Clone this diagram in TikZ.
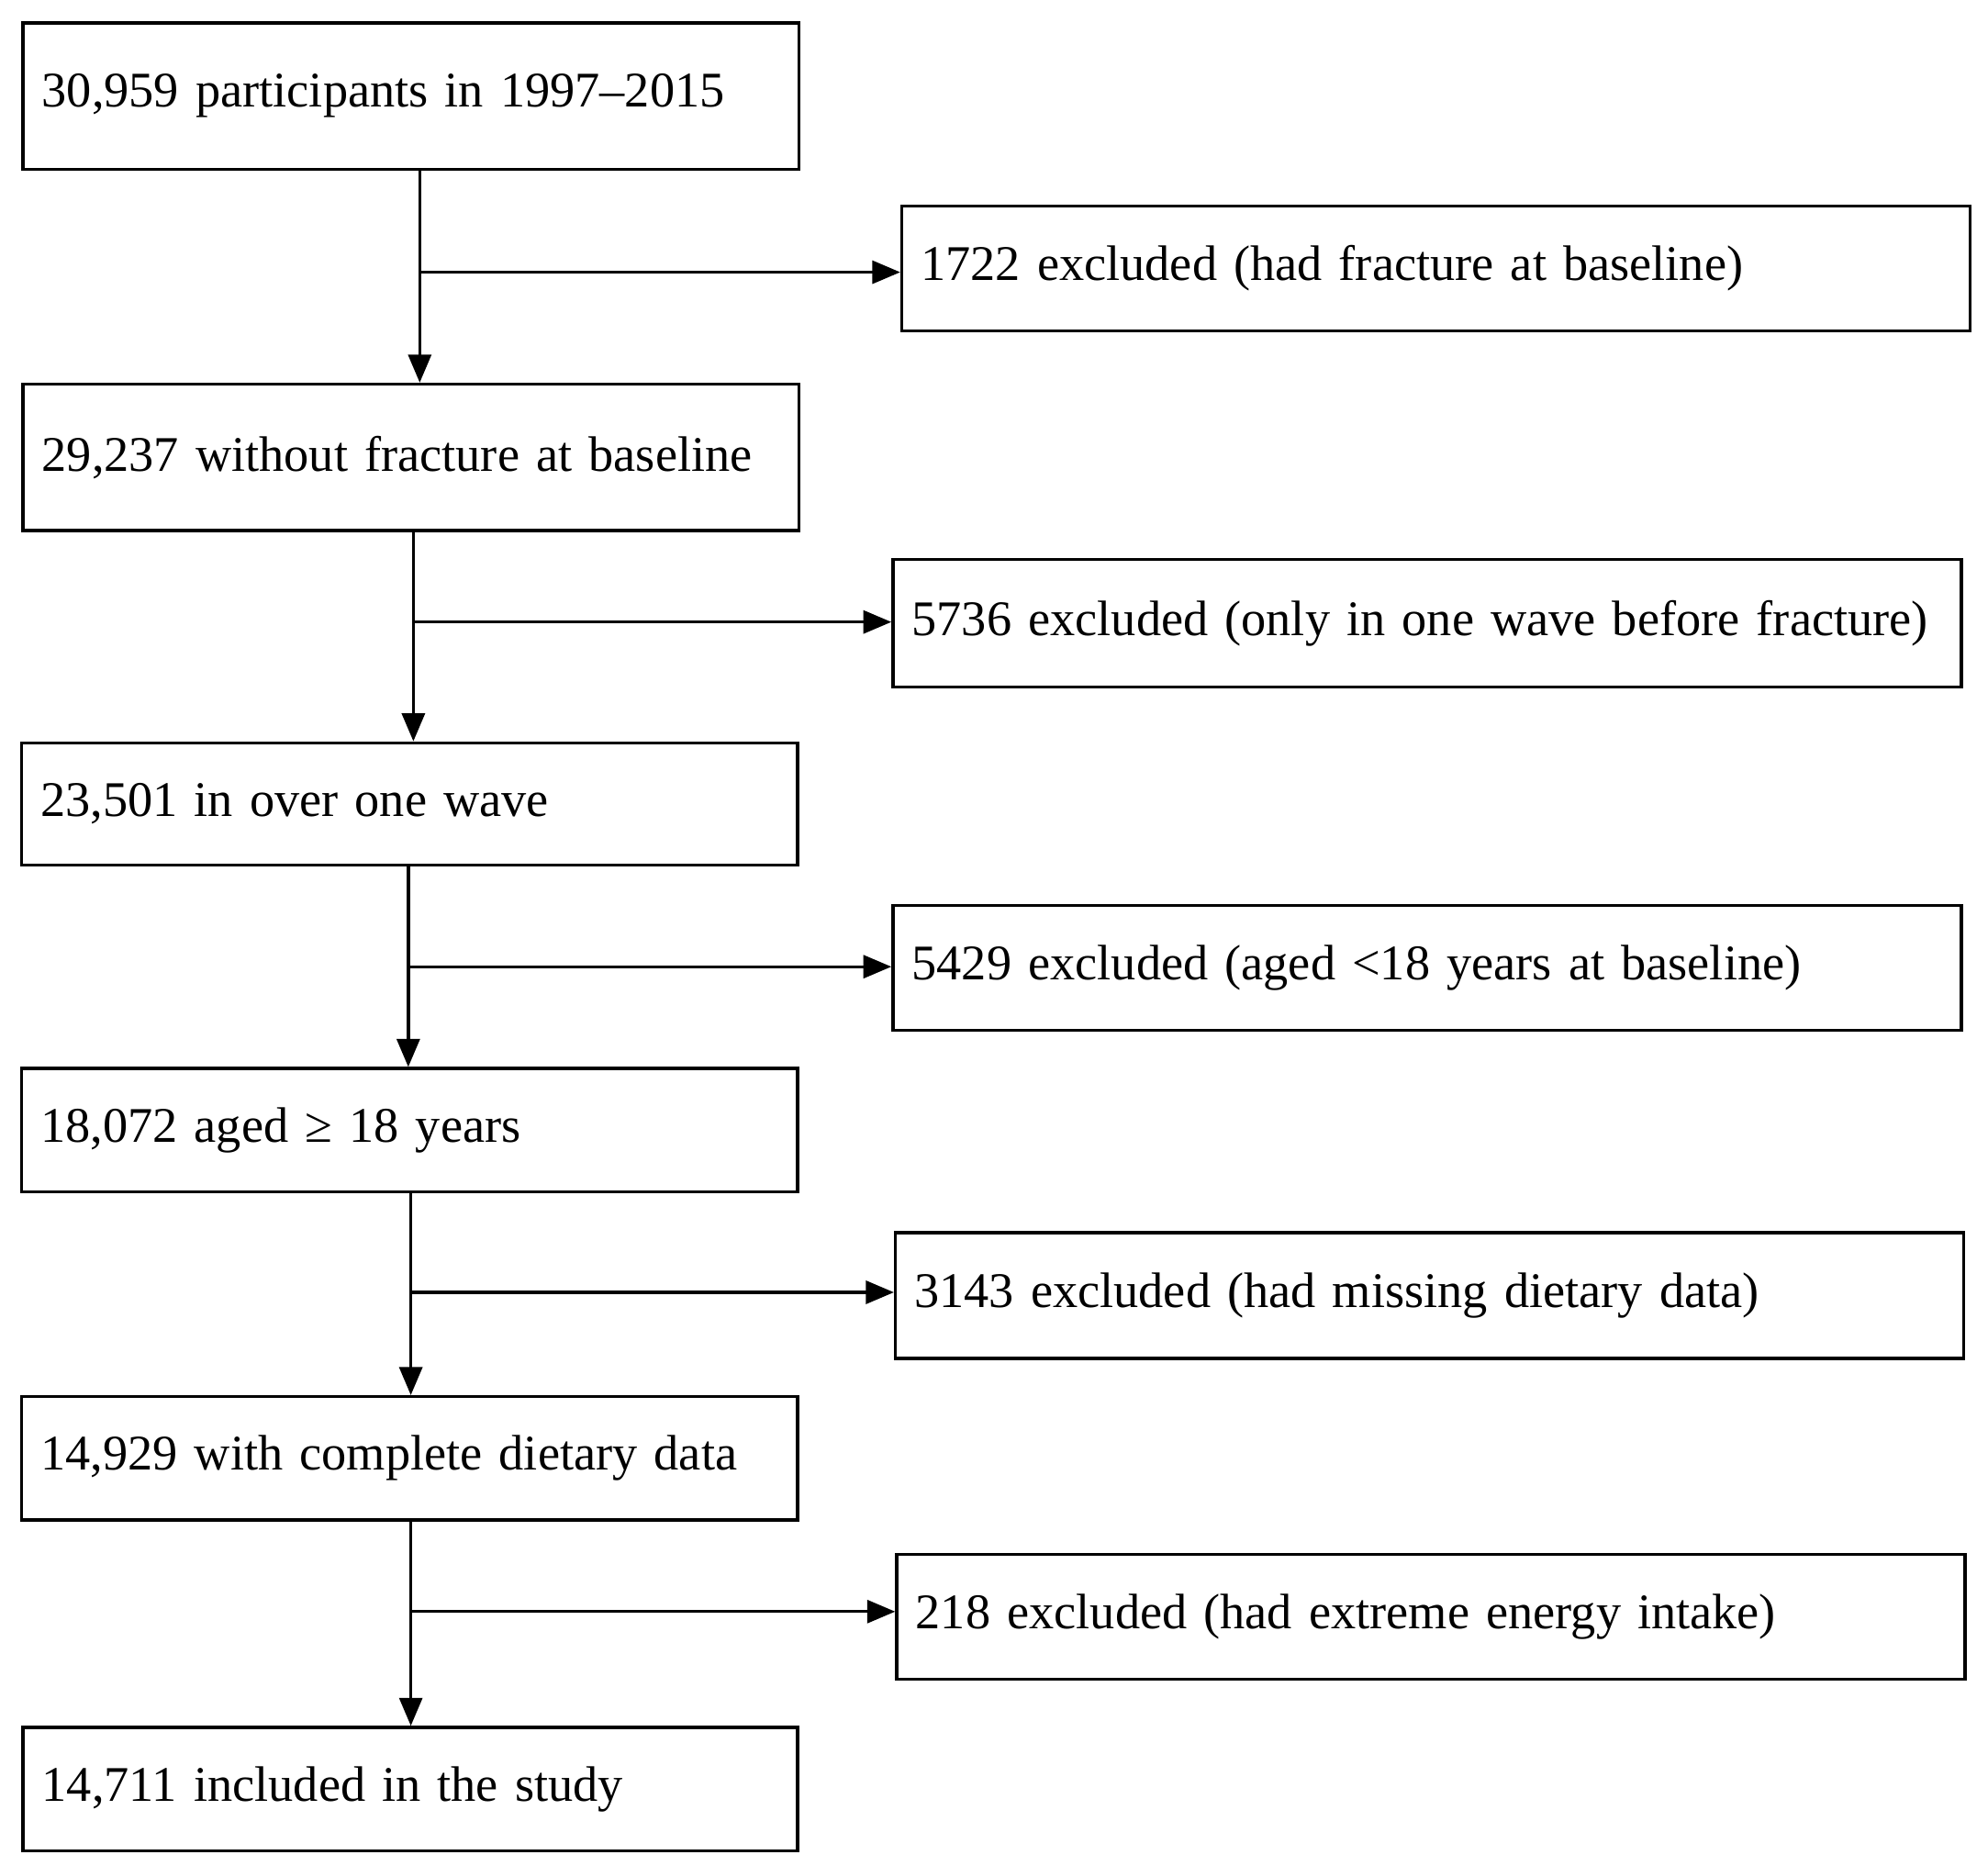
\documentclass[tikz,border=0pt]{standalone}
\usepackage{fontspec}
\setmainfont{Liberation Serif}
\usetikzlibrary{arrows.meta}
\begin{document}
\begin{tikzpicture}[x=0.5pt,y=-0.5pt,
  box/.style={draw,line width=1.2pt,anchor=center,inner sep=0pt,align=left,font=\fontsize{19.6}{23}\selectfont},
  arr/.style={line width=1.2pt,-{Triangle[length=11pt,width=9pt]}}]
\useasboundingbox (0,0) rectangle (1563,1467);
\newcommand\bx[6]{\node[box,minimum width=#4*0.5pt-#2*0.5pt,minimum height=#5*0.5pt-#3*0.5pt,text width=#4*0.5pt-#2*0.5pt-15pt] (#1) at ({(#2+#4)/2},{(#3+#5)/2}) {#6};}
\bx{n1}{18}{18}{628}{133}{30,959 participants in 1997–2015}
\bx{e1}{709}{162}{1549}{260}{1722 excluded (had fracture at baseline)}
\bx{n2}{18}{302}{628}{417}{29,237 without fracture at baseline}
\bx{e2}{702}{440}{1542}{540}{5736 excluded (only in one wave before fracture)}
\bx{n3}{17}{584}{627}{680}{23,501 in over one wave}
\bx{e3}{702}{712}{1542}{810}{5429 excluded (aged <18 years at baseline)}
\bx{n4}{17}{840}{627}{937}{18,072 aged ≥ 18 years}
\bx{e4}{704}{969}{1544}{1068}{3143 excluded (had missing dietary data)}
\bx{n5}{17}{1098}{627}{1195}{14,929 with complete dietary data}
\bx{e5}{705}{1222}{1545}{1320}{218 excluded (had extreme energy intake)}
\bx{n6}{18}{1358}{627}{1455}{14,711 included in the study}
\coordinate (c1) at (330,214);
\coordinate (c2) at (325,489);
\coordinate (c3) at (321,760);
\coordinate (c4) at (323,1016);
\coordinate (c5) at (323,1267);
\draw[arr] (n1.south -| c1) -- (n2.north -| c1);
\draw[arr] (c1) -- (e1.west |- c1);
\draw[arr] (n2.south -| c2) -- (n3.north -| c2);
\draw[arr] (c2) -- (e2.west |- c2);
\draw[arr] (n3.south -| c3) -- (n4.north -| c3);
\draw[arr] (c3) -- (e3.west |- c3);
\draw[arr] (n4.south -| c4) -- (n5.north -| c4);
\draw[arr] (c4) -- (e4.west |- c4);
\draw[arr] (n5.south -| c5) -- (n6.north -| c5);
\draw[arr] (c5) -- (e5.west |- c5);
\end{tikzpicture}
\end{document}
